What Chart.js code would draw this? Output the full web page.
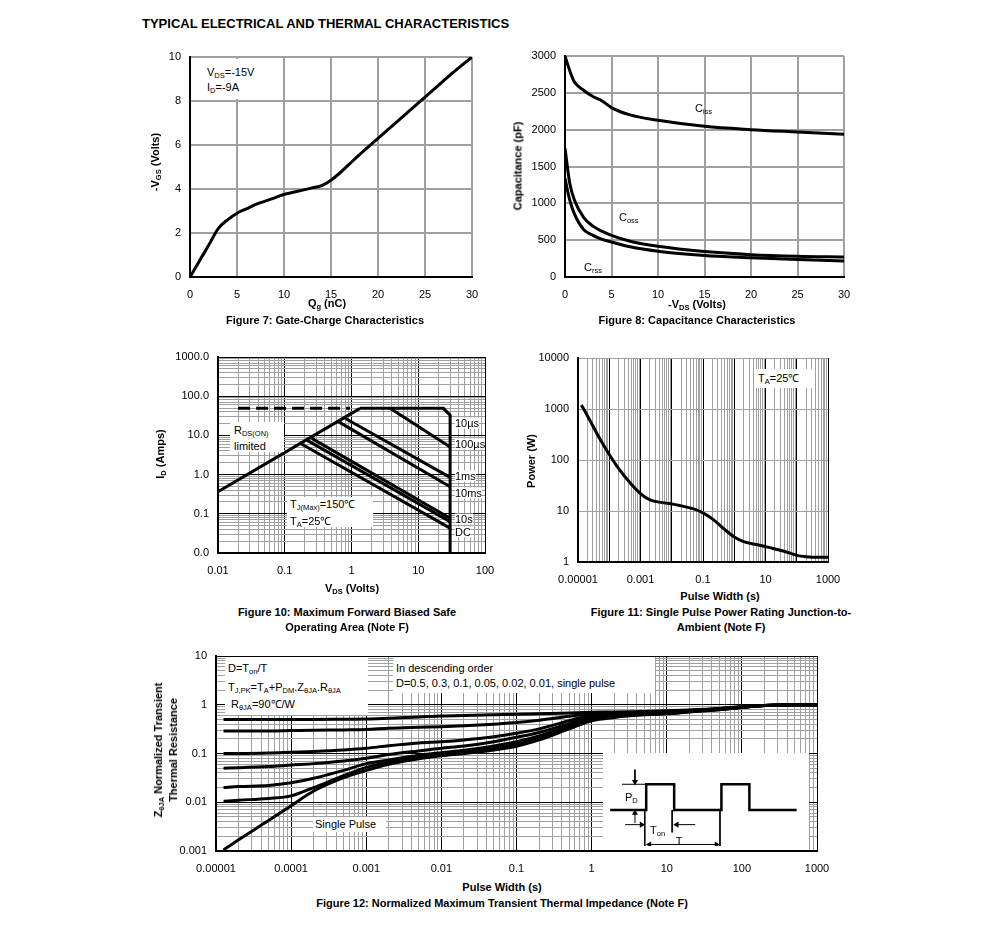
<!DOCTYPE html>
<html>
<head>
<meta charset="utf-8">
<script src="https://cdn.jsdelivr.net/npm/chart.js@4.4.1/dist/chart.umd.min.js"></script>
<style>
  body { margin: 0; background: #fff; }
  #page { position: relative; width: 991px; height: 935px; background: #fff; overflow: hidden;
          font-family: "Liberation Sans", Arial, sans-serif; color: #000; }
  canvas { position: absolute; }
  .t { position: absolute; font-size: 11px; line-height: 1; white-space: nowrap; }
  .b { font-weight: bold; }
  .c { transform: translate(-50%, -50%); }
  .l { transform: translateY(-50%); }
  .r { transform: translate(-50%, -50%) rotate(-90deg); text-align: center; }
  .box { position: absolute; background: #fff; }
  sub { font-size: 7.5px; vertical-align: -2px; line-height: 0; }
</style>
</head>
<body>
<div id="page">
  <div class="t b l" style="left:142px;top:23px;font-size:13px">TYPICAL ELECTRICAL AND THERMAL CHARACTERISTICS</div>

  <canvas id="fig7"></canvas>
  <canvas id="fig8"></canvas>
  <canvas id="fig10"></canvas>
  <canvas id="fig11"></canvas>
  <canvas id="fig12"></canvas>
  <canvas id="inset" style="background:#fff"></canvas>

  <!-- Figure 7 -->
  <div class="box" style="left:193px;top:59px;width:66px;height:40px"></div>
  <div class="t l" style="left:207px;top:72px">V<sub>DS</sub>=-15V</div>
  <div class="t l" style="left:207px;top:87px">I<sub>D</sub>=-9A</div>
  <div class="t b r" style="left:155px;top:162px">-V<sub>GS</sub> (Volts)</div>
  <div class="t b c" style="left:327px;top:303px">Q<sub>g</sub> (nC)</div>
  <div class="t b c" style="left:325px;top:320px">Figure 7: Gate-Charge Characteristics</div>

  <!-- Figure 8 -->
  <div class="t l" style="left:695px;top:108px">C<sub>iss</sub></div>
  <div class="t l" style="left:619px;top:217px">C<sub>oss</sub></div>
  <div class="box" style="left:582px;top:259px;width:28px;height:16px"></div>
  <div class="t l" style="left:584px;top:267px">C<sub>rss</sub></div>
  <div class="t b r" style="left:518px;top:166px">Capacitance (pF)</div>
  <div class="t b c" style="left:697px;top:304px">-V<sub>DS</sub> (Volts)</div>
  <div class="t b c" style="left:697px;top:320px">Figure 8: Capacitance Characteristics</div>

  <!-- Figure 10 -->
  <div class="box" style="left:230px;top:422px;width:54px;height:30px"></div>
  <div class="t l" style="left:234px;top:430px">R<sub>DS(ON)</sub></div>
  <div class="t l" style="left:234px;top:446px">limited</div>
  <div class="box" style="left:287px;top:497px;width:86px;height:30px"></div>
  <div class="t l" style="left:290px;top:504px">T<sub>J(Max)</sub>=150&#8451;</div>
  <div class="t l" style="left:290px;top:521px">T<sub>A</sub>=25&#8451;</div>
  <div class="t l" style="left:455px;top:423px;background:#fff">10&micro;s</div>
  <div class="t l" style="left:455px;top:444px;background:#fff">100&micro;s</div>
  <div class="t l" style="left:455px;top:476px;background:#fff">1ms</div>
  <div class="t l" style="left:455px;top:493px;background:#fff">10ms</div>
  <div class="t l" style="left:455px;top:519px;background:#fff">10s</div>
  <div class="t l" style="left:455px;top:532px;background:#fff">DC</div>
  <div class="t b r" style="left:160px;top:454px">I<sub>D</sub> (Amps)</div>
  <div class="t b c" style="left:352px;top:588px">V<sub>DS</sub> (Volts)</div>
  <div class="t b c" style="left:347px;top:612px">Figure 10: Maximum Forward Biased Safe</div>
  <div class="t b c" style="left:347px;top:627px">Operating Area (Note F)</div>

  <!-- Figure 11 -->
  <div class="box" style="left:755px;top:369px;width:60px;height:19px"></div>
  <div class="t l" style="left:758px;top:378px">T<sub>A</sub>=25&#8451;</div>
  <div class="t b r" style="left:531px;top:461px">Power (W)</div>
  <div class="t b c" style="left:720px;top:596px">Pulse Width (s)</div>
  <div class="t b c" style="left:721px;top:612px">Figure 11: Single Pulse Power Rating Junction-to-</div>
  <div class="t b c" style="left:721px;top:627px">Ambient (Note F)</div>

  <!-- Figure 12 -->
  <div class="box" style="left:225px;top:657px;width:143px;height:58px"></div>
  <div class="t l" style="left:228px;top:668px">D=T<sub>on</sub>/T</div>
  <div class="t l" style="left:228px;top:687px">T<sub>J,PK</sub>=T<sub>A</sub>+P<sub>DM</sub>.Z<sub>&theta;JA</sub>.R<sub>&theta;JA</sub></div>
  <div class="t l" style="left:231px;top:704px">R<sub>&theta;JA</sub>=90&#8451;/W</div>
  <div class="box" style="left:393px;top:657px;width:262px;height:36px"></div>
  <div class="t l" style="left:396px;top:668px">In descending order</div>
  <div class="t l" style="left:396px;top:683px">D=0.5, 0.3, 0.1, 0.05, 0.02, 0.01, single pulse</div>
  <div class="box" style="left:313px;top:817px;width:73px;height:15px"></div>
  <div class="t l" style="left:315px;top:824px">Single Pulse</div>
  <div class="t l" style="left:625px;top:797px">P<sub>D</sub></div>
  <div class="t l" style="left:650px;top:830px">T<sub>on</sub></div>
  <div class="t c" style="left:679px;top:841px">T</div>
  <div class="t b r" style="left:166px;top:750px;line-height:15px">Z<sub>&theta;JA</sub> Normalized Transient<br>Thermal Resistance</div>
  <div class="t b c" style="left:502px;top:887px">Pulse Width (s)</div>
  <div class="t b c" style="left:502px;top:903px">Figure 12: Normalized Maximum Transient Thermal Impedance (Note F)</div>
</div>

<script>
// Figure 7: gate charge
const qg = [0, 1, 2, 3, 4, 5, 6, 7, 8, 9, 10, 11, 12, 13, 14, 15, 16, 17, 18, 20, 22, 24, 26, 28, 30];
const vgs = [0, 0.73, 1.45, 2.2, 2.6, 2.9, 3.1, 3.3, 3.45, 3.6, 3.75, 3.85, 3.95, 4.05, 4.15, 4.4, 4.75, 5.15, 5.55, 6.3, 7.05, 7.8, 8.55, 9.3, 10];

// Figure 8: capacitance
const vds8 = [0, 0.5, 1, 2, 3, 4, 5, 7, 10, 15, 20, 25, 30];
const ciss = [3000, 2805, 2650, 2535, 2450, 2390, 2300, 2200, 2127, 2045, 2000, 1968, 1937];
const coss = [1750, 1280, 1050, 810, 690, 620, 566, 485, 416, 345, 303, 281, 271];
const crss = [1340, 1050, 860, 645, 565, 510, 475, 410, 350, 292, 262, 236, 217];

// Figure 10: safe operating area, [Vds, Id]
const rdsLimit = [[0.01, 0.365], [1.34, 49]];
const rdsDashed = [[0.02, 49], [0.95, 49]];
const soaEdge = [[1.34, 49], [23.8, 49], [30, 33], [30, 0.01]];
const soa10us = [[3.78, 49], [30, 5.06]];
const soa100us = [[0.8, 27.3], [30, 0.85]];
const soa1ms = [[0.634, 22.4], [30, 0.49]];
const soa10ms = [[0.254, 8.4], [30, 0.077]];
const soa10s = [[0.214, 7.6], [30, 0.063]];
const soaDC = [[0.17, 6.3], [30, 0.043]];
const soaXTicks = [0.01, 0.1, 1, 10, 100];
const soaXLabels = ['0.01', '0.1', '1', '10', '100'];
const soaYTicks = [0.01, 0.1, 1, 10, 100, 1000];
const soaYLabels = ['0.0', '0.1', '1.0', '10.0', '100.0', '1000.0'];

// Figure 11: single pulse power
const pwTime = [1.28e-5, 2e-5, 5e-5, 1e-4, 2e-4, 5e-4, 1e-3, 2e-3, 5e-3, 1e-2, 2e-2, 5e-2, 0.1, 0.2, 0.5, 1, 2, 5, 10, 20, 50, 100, 200, 500, 1000];
const pwPower = [1200, 740, 260, 128, 68, 34, 22, 16.5, 14.6, 13.8, 12.6, 11, 9.2, 7, 4.3, 3.1, 2.5, 2.2, 2.0, 1.8, 1.55, 1.35, 1.27, 1.24, 1.24];
const pwXTicks = [1e-5, 1e-3, 0.1, 10, 1000];
const pwXLabels = ['0.00001', '0.001', '0.1', '10', '1000'];
const pwYTicks = [1, 10, 100, 1000, 10000];
const pwYLabels = ['1', '10', '100', '1000', '10000'];

// Figure 12: transient thermal impedance
const ztTime = [1.26e-5, 2e-5, 5e-5, 1e-4, 2e-4, 5e-4, 1e-3, 2e-3, 5e-3, 1e-2, 2e-2, 5e-2, 0.1, 0.2, 0.5, 1, 2, 5, 10, 20, 50, 100, 200, 500, 1000];
const zD05 = [0.5, 0.5, 0.5, 0.5, 0.5, 0.505, 0.51, 0.53, 0.56, 0.59, 0.6, 0.62, 0.64, 0.655, 0.68, 0.7, 0.71, 0.73, 0.75, 0.78, 0.84, 0.92, 0.97, 1.0, 1.0];
const zD03 = [0.29, 0.29, 0.29, 0.295, 0.3, 0.305, 0.31, 0.33, 0.345, 0.355, 0.37, 0.4, 0.43, 0.48, 0.58, 0.66, 0.68, 0.71, 0.73, 0.77, 0.83, 0.91, 0.97, 1.0, 1.0];
const zD01 = [0.1, 0.1, 0.102, 0.106, 0.11, 0.118, 0.128, 0.145, 0.165, 0.175, 0.19, 0.22, 0.26, 0.32, 0.47, 0.62, 0.65, 0.69, 0.71, 0.75, 0.82, 0.9, 0.96, 1.0, 1.0];
const zD005 = [0.05, 0.051, 0.054, 0.058, 0.062, 0.07, 0.08, 0.095, 0.113, 0.128, 0.142, 0.175, 0.215, 0.27, 0.41, 0.57, 0.62, 0.67, 0.69, 0.74, 0.81, 0.89, 0.96, 1.0, 1.0];
const zD002 = [0.02, 0.021, 0.022, 0.025, 0.031, 0.045, 0.062, 0.074, 0.092, 0.104, 0.116, 0.143, 0.175, 0.23, 0.37, 0.53, 0.59, 0.65, 0.67, 0.73, 0.8, 0.89, 0.96, 1.0, 1.0];
const zD001 = [0.0105, 0.011, 0.012, 0.0135, 0.02, 0.035, 0.052, 0.066, 0.084, 0.096, 0.106, 0.128, 0.155, 0.21, 0.34, 0.5, 0.57, 0.63, 0.66, 0.72, 0.8, 0.88, 0.96, 1.0, 1.0];
const zSingle = [0.00105, 0.0017, 0.0042, 0.0085, 0.017, 0.032, 0.045, 0.06, 0.078, 0.09, 0.1, 0.118, 0.14, 0.19, 0.32, 0.47, 0.55, 0.62, 0.65, 0.71, 0.79, 0.88, 0.96, 1.0, 1.0];
const ztXTicks = [1e-5, 1e-4, 1e-3, 1e-2, 0.1, 1, 10, 100, 1000];
const ztXLabels = ['0.00001', '0.0001', '0.001', '0.01', '0.1', '1', '10', '100', '1000'];
const ztYTicks = [0.001, 0.01, 0.1, 1, 10];
const ztYLabels = ['0.001', '0.01', '0.1', '1', '10'];

// inset: pulse train sketch, x in units of Ton, y in units of PD
const pulseWave = [[0.11, 0], [1.36, 0], [1.36, 1], [2.33, 1], [2.33, 0], [3.97, 0], [3.97, 1], [4.94, 1], [4.94, 0], [6.58, 0]];
const pdRef = [[0.52, 1], [1.36, 1]];
const pdArrowDown = [[0.97, 1.57], [0.97, 1.1]];
const pdArrowUp = [[0.97, -0.51], [0.97, -0.12]];
const riseMark = [[1.31, 0], [1.31, -1.5]];
const fallMark = [[2.26, 0], [2.26, -0.87]];
const nextMark = [[3.92, 0], [3.92, -1.5]];
const tonArrowIn = [[0.63, -0.57], [1.2, -0.57]];
const tonArrowOut = [[3.06, -0.57], [2.42, -0.57]];
const periodArrow = [[1.47, -1.34], [3.8, -1.34]];

Chart.defaults.font.family = '"Liberation Sans", Arial, sans-serif';
Chart.defaults.font.size = 11;
Chart.defaults.color = '#000';

const M = { left: 60, top: 10, right: 20, bottom: 24 };
const GRID = '#a0a0a0';

function place(id, l, t, r, b) {
  const c = document.getElementById(id);
  c.width = r - l + M.left + M.right;
  c.height = b - t + M.top + M.bottom;
  c.style.left = (l - M.left) + 'px';
  c.style.top = (t - M.top) + 'px';
  return c;
}

function xy(xs, ys) { return xs.map((x, i) => ({ x: x, y: ys[i] })); }
function pairs(a) { return a.map(p => ({ x: p[0], y: p[1] })); }

const fitX = s => { s.height = M.bottom; s.paddingLeft = 0; s.paddingRight = 0; };
const fitY = s => { s.width = M.left; s.paddingTop = 0; s.paddingBottom = 0; };

function decadeTicks(min, max, minor) {
  const out = [];
  const e0 = Math.round(Math.log10(min));
  const e1 = Math.round(Math.log10(max));
  for (let e = e0; e < e1; e++) {
    const base = Math.pow(10, e);
    out.push({ value: base, major: true });
    if (minor) {
      for (let d = 2; d < 10; d++) out.push({ value: d * base, major: false });
    }
  }
  out.push({ value: max, major: true });
  return out;
}

function labelFor(v, vals, labels) {
  const i = vals.findIndex(t => Math.abs(Math.log10(t) - Math.log10(v)) < 1e-6);
  return i >= 0 ? labels[i] : '';
}

function linAxis(min, max, step, isX) {
  return {
    type: 'linear', min: min, max: max,
    ticks: { stepSize: step, padding: isX ? 11 : 9, maxRotation: 0, autoSkip: false,
      callback: v => String(v) },
    grid: { drawTicks: false, color: GRID, lineWidth: 2 },
    border: { color: '#000', width: 2 },
    afterFit: isX ? fitX : fitY
  };
}

function logAxis(min, max, vals, labels, isX, minor, majorColor) {
  return {
    type: 'logarithmic', min: min, max: max,
    afterBuildTicks: s => { s.ticks = decadeTicks(min, max, minor); },
    ticks: { autoSkip: false, maxRotation: 0, padding: isX ? 11 : 9,
      callback: v => labelFor(v, vals, labels) },
    grid: { drawTicks: false, lineWidth: 1,
      color: c => (c.tick && c.tick.major) ? majorColor : GRID },
    border: { color: '#000', width: 2 },
    afterFit: isX ? fitX : fitY
  };
}

function baseOptions(scales) {
  return {
    responsive: false, animation: false, events: [],
    layout: { padding: { top: M.top, right: M.right, left: 0, bottom: 0 } },
    plugins: { legend: { display: false }, tooltip: { enabled: false } },
    elements: { point: { radius: 0 }, line: { borderColor: '#000', borderWidth: 3, fill: false } },
    scales: scales
  };
}

function curve(data, smooth) {
  return { data: data, borderColor: '#000', borderWidth: 3, pointRadius: 0,
    tension: smooth ? 0.4 : 0, cubicInterpolationMode: smooth ? 'monotone' : 'default' };
}

// Figure 7
new Chart(place('fig7', 190, 57, 472, 277), {
  type: 'line',
  data: { datasets: [curve(xy(qg, vgs), true)] },
  options: baseOptions({ x: linAxis(0, 30, 5, true), y: linAxis(0, 10, 2, false) })
});

// Figure 8
new Chart(place('fig8', 565, 56, 844, 277), {
  type: 'line',
  data: { datasets: [curve(xy(vds8, ciss), true), curve(xy(vds8, coss), true), curve(xy(vds8, crss), true)] },
  options: baseOptions({ x: linAxis(0, 30, 5, true), y: linAxis(0, 3000, 500, false) })
});

// Figure 10
const dashed = curve(pairs(rdsDashed), false);
dashed.borderDash = [12, 6];
new Chart(place('fig10', 218, 357, 485, 553), {
  type: 'line',
  data: { datasets: [
    curve(pairs(rdsLimit), false), dashed, curve(pairs(soaEdge), false),
    curve(pairs(soa10us), false), curve(pairs(soa100us), false), curve(pairs(soa1ms), false),
    curve(pairs(soa10ms), false), curve(pairs(soa10s), false), curve(pairs(soaDC), false)
  ] },
  options: baseOptions({
    x: logAxis(0.01, 100, soaXTicks, soaXLabels, true, true, '#000'),
    y: logAxis(0.01, 1000, soaYTicks, soaYLabels, false, true, '#000')
  })
});

// Figure 11
new Chart(place('fig11', 578, 358, 828, 562), {
  type: 'line',
  data: { datasets: [curve(xy(pwTime, pwPower), true)] },
  options: baseOptions({
    x: logAxis(1e-5, 1000, pwXTicks, pwXLabels, true, true, '#000'),
    y: logAxis(1, 10000, pwYTicks, pwYLabels, false, false, GRID)
  })
});

// Figure 12
new Chart(place('fig12', 216, 656, 817, 851), {
  type: 'line',
  data: { datasets: [zD05, zD03, zD01, zD005, zD002, zD001, zSingle].map(s => curve(xy(ztTime, s), true)) },
  options: baseOptions({
    x: logAxis(1e-5, 1000, ztXTicks, ztXLabels, true, true, '#000'),
    y: logAxis(0.001, 10, ztYTicks, ztYLabels, false, true, '#000')
  })
});

// Figure 12 inset: duty cycle sketch
function thin(data) {
  return { data: pairs(data), borderColor: '#000', borderWidth: 1, pointRadius: 0 };
}
function arrow(data, rotEnd, rotStart) {
  const d = thin(data);
  d.pointStyle = 'triangle';
  d.pointRadius = [rotStart === undefined ? 0 : 3.5, 3.5];
  d.pointRotation = [rotStart || 0, rotEnd];
  d.pointBackgroundColor = '#000';
  d.pointBorderWidth = 0;
  return d;
}
const inset = document.getElementById('inset');
inset.width = 206; inset.height = 97;
inset.style.left = '603px'; inset.style.top = '753px';
new Chart(inset, {
  type: 'line',
  data: { datasets: [
    { data: pairs(pulseWave), borderColor: '#000', borderWidth: 2.5, pointRadius: 0 },
    thin(pdRef), thin(riseMark), thin(fallMark), thin(nextMark),
    arrow(pdArrowDown, 180), arrow(pdArrowUp, 0),
    arrow(tonArrowIn, 90), arrow(tonArrowOut, 270),
    arrow(periodArrow, 90, 270)
  ] },
  options: {
    responsive: false, animation: false, events: [],
    layout: { padding: 0 },
    plugins: { legend: { display: false }, tooltip: { enabled: false } },
    scales: {
      x: { type: 'linear', display: false, min: 0, max: 6.87 },
      y: { type: 'linear', display: false, min: -1.4, max: 2.06 }
    }
  }
});
</script>
</body>
</html>
